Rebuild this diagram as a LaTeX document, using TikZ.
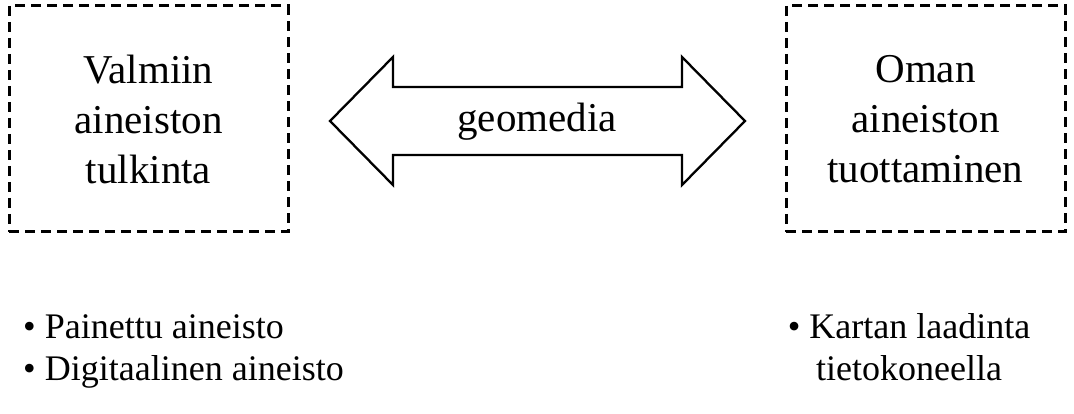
\documentclass[tikz,border=0pt]{standalone}
\usepackage{fontspec}
\setmainfont{Liberation Serif}
\usetikzlibrary{calc}
\begin{document}
\begin{tikzpicture}[x=1pt,y=-1pt,
  box/.style={draw, line width=3pt, dash pattern=on 10pt off 6pt, minimum width=279pt, minimum height=226pt, inner sep=0pt, align=center, font=\fontsize{41}{50}\selectfont},
  bigarrow/.style={draw, line width=2.3pt, line join=miter},
  label/.style={inner sep=0pt, font=\fontsize{41}{50}\selectfont},
  listtext/.style={inner sep=0pt, font=\fontsize{36}{42}\selectfont}]
\useasboundingbox (0,0) rectangle (1074,414);
\node[box] (L) at (148.5,119) {Valmiin\\aineiston\\tulkinta};
\node[box] (R) at (925.5,119) {Oman\\aineiston\\tuottaminen};
\coordinate (A) at (537.5,121);
\draw[bigarrow] ($(A)+(-207.5,0)$) -- ($(A)+(-144.5,-64)$) -- ($(A)+(-144.5,-34)$) -- ($(A)+(144.5,-34)$) -- ($(A)+(144.5,-64)$) -- ($(A)+(207.5,0)$) -- ($(A)+(144.5,64)$) -- ($(A)+(144.5,34)$) -- ($(A)+(-144.5,34)$) -- ($(A)+(-144.5,64)$) -- cycle;
\node[label, anchor=base] (G) at (537,132) {geomedia};
\node[listtext, anchor=base west, align=left] (LL) at (23,380) {• Painettu aineisto\\• Digitaalinen aineisto};
\node[listtext, anchor=base, align=center] (RL) at (909,380) {• Kartan laadinta\\tietokoneella};
\end{tikzpicture}
\end{document}
